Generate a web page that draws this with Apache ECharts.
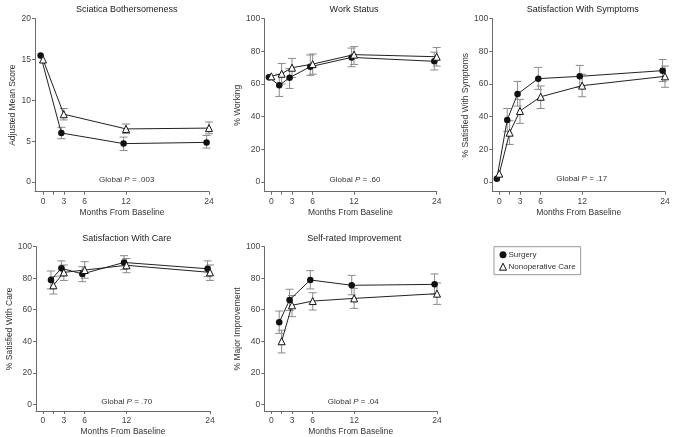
<!DOCTYPE html>
<html>
<head>
<meta charset="utf-8">
<script src="https://cdn.jsdelivr.net/npm/echarts@6/dist/echarts.min.js"></script>
<style>
html,body{margin:0;padding:0;background:#fff;}
#chart{width:692px;height:437px;}
</style>
</head>
<body>
<div id="chart"></div>
<script>
// ---------- data ----------
const groupNames = ['Surgery', 'Nonoperative Care'];
const xTickLabels = [0, 3, 6, 12, 24];
const xTicks = [0, 1.5, 3, 6, 12, 24];

const panelTitles = ['Sciatica Bothersomeness', 'Work Status', 'Satisfaction With Symptoms', 'Satisfaction With Care', 'Self-rated Improvement'];
const yAxisNames = ['Adjusted Mean Score', '% Working', '% Satisfied With Symptoms', '% Satisfied With Care', '% Major Improvement'];
const globalP = ['.003', '.60', '.17', '.70', '.04'];
const yTickLabels1 = [0, 5, 10, 15, 20];
const yTickLabelsPct = [0, 20, 40, 60, 80, 100];

// Sciatica Bothersomeness
const sciaticaMonths = [0, 3, 12, 24];
const sciaticaSurgery = [15.5, 6.0, 4.7, 4.85];
const sciaticaSurgeryLo = [null, 5.3, 3.85, 4.15];
const sciaticaSurgeryHi = [null, 6.7, 5.5, 5.7];
const sciaticaNonop = [15.0, 8.3, 6.5, 6.6];
const sciaticaNonopLo = [null, 7.6, 5.95, 5.9];
const sciaticaNonopHi = [null, 9.0, 7.1, 7.35];

// Work Status
const workMonths = [0, 1.5, 3, 6, 12, 24];
const workSurgery = [64.1, 59.2, 63.9, 70.6, 76.3, 73.9];
const workSurgeryLo = [null, 52.4, 57.3, 65.3, 70.6, 68.6];
const workSurgeryHi = [null, 66.0, 69.5, 77.8, 82.0, 79.5];
const workNonop = [64.7, 66.3, 70.0, 72.2, 78.0, 76.7];
const workNonopLo = [null, 60.0, 64.0, 66.0, 72.0, 71.0];
const workNonopHi = [null, 72.6, 75.7, 78.4, 82.9, 82.4];

// Satisfaction With Symptoms
const symptomsMonths = [0, 1.5, 3, 6, 12, 24];
const symptomsSurgery = [2.0, 38.0, 53.9, 63.3, 64.7, 68.2];
const symptomsSurgeryLo = [null, 31.0, 46.5, 56.7, 58.0, 61.5];
const symptomsSurgeryHi = [null, 45.0, 61.6, 70.2, 71.4, 75.0];
const symptomsNonop = [5.1, 30.2, 43.5, 52.2, 59.0, 64.7];
const symptomsNonopLo = [null, 23.0, 35.9, 45.0, 52.2, 58.0];
const symptomsNonopHi = [null, 37.5, 50.6, 58.8, 66.0, 71.0];

// Satisfaction With Care
const careMonths = [1.5, 3, 6, 12, 24];
const careSurgery = [78.9, 86.3, 82.7, 90.0, 86.0];
const careSurgeryLo = [73.2, 81.4, 77.8, 85.6, 81.0];
const careSurgeryHi = [84.6, 91.0, 87.3, 94.3, 91.0];
const careNonop = [75.5, 83.7, 85.2, 88.2, 83.7];
const careNonopLo = [70.0, 78.6, 80.0, 83.5, 78.6];
const careNonopHi = [81.0, 88.4, 90.5, 92.5, 88.4];

// Self-rated Improvement
const improveMonths = [1.5, 3, 6, 12, 24];
const improveSurgery = [52.0, 66.2, 78.9, 75.5, 76.1];
const improveSurgeryLo = [45.0, 59.5, 73.2, 69.5, 69.8];
const improveSurgeryHi = [59.2, 73.0, 84.8, 81.8, 82.7];
const improveNonop = [40.0, 62.8, 65.5, 67.2, 70.2];
const improveNonopLo = [32.6, 55.6, 59.8, 60.9, 63.4];
const improveNonopHi = [47.0, 69.0, 70.8, 73.6, 77.0];

// ---------- layout / style ----------
const FONT = '"Liberation Sans", Arial, Helvetica, sans-serif';
const SURGERY_SHIFT = -0.35; // horizontal dodge for surgery markers
const grids = [
  {left: 35, top: 18.7, width: 174, height: 173},
  {left: 264.3, top: 18.7, width: 172.4, height: 173},
  {left: 492.3, top: 18.7, width: 172.7, height: 173},
  {left: 36, top: 246.7, width: 174, height: 164.3},
  {left: 264.3, top: 246.7, width: 172.7, height: 164.3}
];
const xMins = [-1.16, -1.02, -1.01, -1.0, -1.01];
const yMins = [-1.19, -5.94, -5.94, -4.25, -4.25];
const yMaxs = [20, 100, 100, 100, 100];
const titlePos = [[126.7, 5.5], [354, 5.5], [582.7, 5.5], [126.7, 234], [354.3, 234]];
const pPos = [[126.7, 180], [355, 180], [581.7, 179], [126.7, 402], [353.3, 402]];

const panels = [
  {m: sciaticaMonths, s: [sciaticaSurgery, sciaticaSurgeryLo, sciaticaSurgeryHi], n: [sciaticaNonop, sciaticaNonopLo, sciaticaNonopHi], yt: yTickLabels1},
  {m: workMonths, s: [workSurgery, workSurgeryLo, workSurgeryHi], n: [workNonop, workNonopLo, workNonopHi], yt: yTickLabelsPct},
  {m: symptomsMonths, s: [symptomsSurgery, symptomsSurgeryLo, symptomsSurgeryHi], n: [symptomsNonop, symptomsNonopLo, symptomsNonopHi], yt: yTickLabelsPct},
  {m: careMonths, s: [careSurgery, careSurgeryLo, careSurgeryHi], n: [careNonop, careNonopLo, careNonopHi], yt: yTickLabelsPct},
  {m: improveMonths, s: [improveSurgery, improveSurgeryLo, improveSurgeryHi], n: [improveNonop, improveNonopLo, improveNonopHi], yt: yTickLabelsPct}
];

const AXIS_COLOR = '#6a6a6a';
const LABEL_COLOR = '#444';

function errRender(params, api) {
  const lo = api.value(1), hi = api.value(2);
  if (lo == null || hi == null || isNaN(lo) || isNaN(hi)) return;
  const x = api.value(0);
  const p1 = api.coord([x, lo]);
  const p2 = api.coord([x, hi]);
  const cap = 4;
  const style = {stroke: '#8a8a8a', lineWidth: 1, fill: null};
  return {
    type: 'group',
    children: [
      {type: 'line', shape: {x1: p1[0], y1: p1[1], x2: p2[0], y2: p2[1]}, style: style},
      {type: 'line', shape: {x1: p1[0] - cap, y1: p1[1], x2: p1[0] + cap, y2: p1[1]}, style: style},
      {type: 'line', shape: {x1: p2[0] - cap, y1: p2[1], x2: p2[0] + cap, y2: p2[1]}, style: style}
    ]
  };
}

const option = {
  animation: false,
  backgroundColor: '#fff',
  textStyle: {fontFamily: FONT},
  title: panelTitles.map((t, i) => ({
    text: t, left: titlePos[i][0], top: titlePos[i][1], textAlign: 'center', padding: 0,
    textStyle: {fontFamily: FONT, fontSize: 9, fontWeight: 'normal', color: '#222'}
  })),
  legend: {
    orient: 'vertical', left: 494, top: 246.7, padding: [4, 5, 4, 5], itemGap: 4,
    itemWidth: 7, itemHeight: 7, borderColor: '#999', borderWidth: 1,
    textStyle: {fontFamily: FONT, fontSize: 8, color: '#333', padding: [0, 0, 0, -3]},
    data: [
      {name: groupNames[0], icon: 'circle', itemStyle: {color: '#111', borderWidth: 0}},
      {name: groupNames[1], icon: 'triangle', itemStyle: {color: '#fff', borderColor: '#111', borderWidth: 1}}
    ]
  },
  grid: grids.map(g => Object.assign({containLabel: false}, g)),
  xAxis: grids.map((g, i) => ({
    type: 'value', gridIndex: i, min: xMins[i], max: 24,
    name: 'Months From Baseline', nameLocation: 'middle', nameGap: 16,
    nameTextStyle: {fontFamily: FONT, fontSize: 8.5, color: '#333'},
    axisLine: {onZero: false, lineStyle: {color: AXIS_COLOR, width: 1}},
    axisTick: {show: true, length: 3, customValues: xTicks, lineStyle: {color: AXIS_COLOR}},
    axisLabel: {customValues: xTickLabels, fontFamily: FONT, fontSize: 8.5, color: LABEL_COLOR, margin: 5},
    splitLine: {show: false}
  })),
  yAxis: grids.map((g, i) => ({
    type: 'value', gridIndex: i, min: yMins[i], max: yMaxs[i],
    name: yAxisNames[i], nameLocation: 'middle', nameGap: 18, nameRotate: 90,
    nameTextStyle: {fontFamily: FONT, fontSize: 8.5, color: '#333'},
    axisLine: {show: true, onZero: false, lineStyle: {color: AXIS_COLOR, width: 1}},
    axisTick: {show: true, length: 3, customValues: panels[i].yt, lineStyle: {color: AXIS_COLOR}},
    axisLabel: {customValues: panels[i].yt, fontFamily: FONT, fontSize: 8.5, color: LABEL_COLOR, margin: 4},
    splitLine: {show: false}
  })),
  graphic: pPos.map((p, i) => ({
    type: 'text', x: p[0], y: p[1],
    style: {
      text: '{a|Global }{b|P}{a| = ' + globalP[i] + '}',
      align: 'center', verticalAlign: 'middle',
      rich: {
        a: {fontFamily: FONT, fontSize: 8, fill: '#333', color: '#333'},
        b: {fontFamily: FONT, fontSize: 8, fontStyle: 'italic', fill: '#333', color: '#333'}
      }
    }
  })),
  series: []
};

panels.forEach((p, i) => {
  const sx = p.m.map(v => v + SURGERY_SHIFT);
  const nx = p.m;
  option.series.push({
    type: 'custom', xAxisIndex: i, yAxisIndex: i, renderItem: errRender, z: 1, silent: true,
    encode: {x: 0, y: [1, 2]},
    data: sx.map((x, k) => [x, p.s[1][k], p.s[2][k]])
  });
  option.series.push({
    type: 'custom', xAxisIndex: i, yAxisIndex: i, renderItem: errRender, z: 1, silent: true,
    encode: {x: 0, y: [1, 2]},
    data: nx.map((x, k) => [x, p.n[1][k], p.n[2][k]])
  });
  option.series.push({
    name: groupNames[0], type: 'line', xAxisIndex: i, yAxisIndex: i, z: 3,
    symbol: 'circle', symbolSize: 6.5, showAllSymbol: true,
    lineStyle: {color: '#222', width: 1},
    itemStyle: {color: '#111', borderWidth: 0},
    data: sx.map((x, k) => [x, p.s[0][k]])
  });
  option.series.push({
    name: groupNames[1], type: 'line', xAxisIndex: i, yAxisIndex: i, z: 4,
    symbol: 'triangle', symbolSize: 7, showAllSymbol: true,
    lineStyle: {color: '#222', width: 1},
    itemStyle: {color: '#fff', borderColor: '#111', borderWidth: 1},
    data: nx.map((x, k) => [x, p.n[0][k]])
  });
});

const chart = echarts.init(document.getElementById('chart'), null, {renderer: 'canvas'});
chart.setOption(option);
</script>
</body>
</html>
